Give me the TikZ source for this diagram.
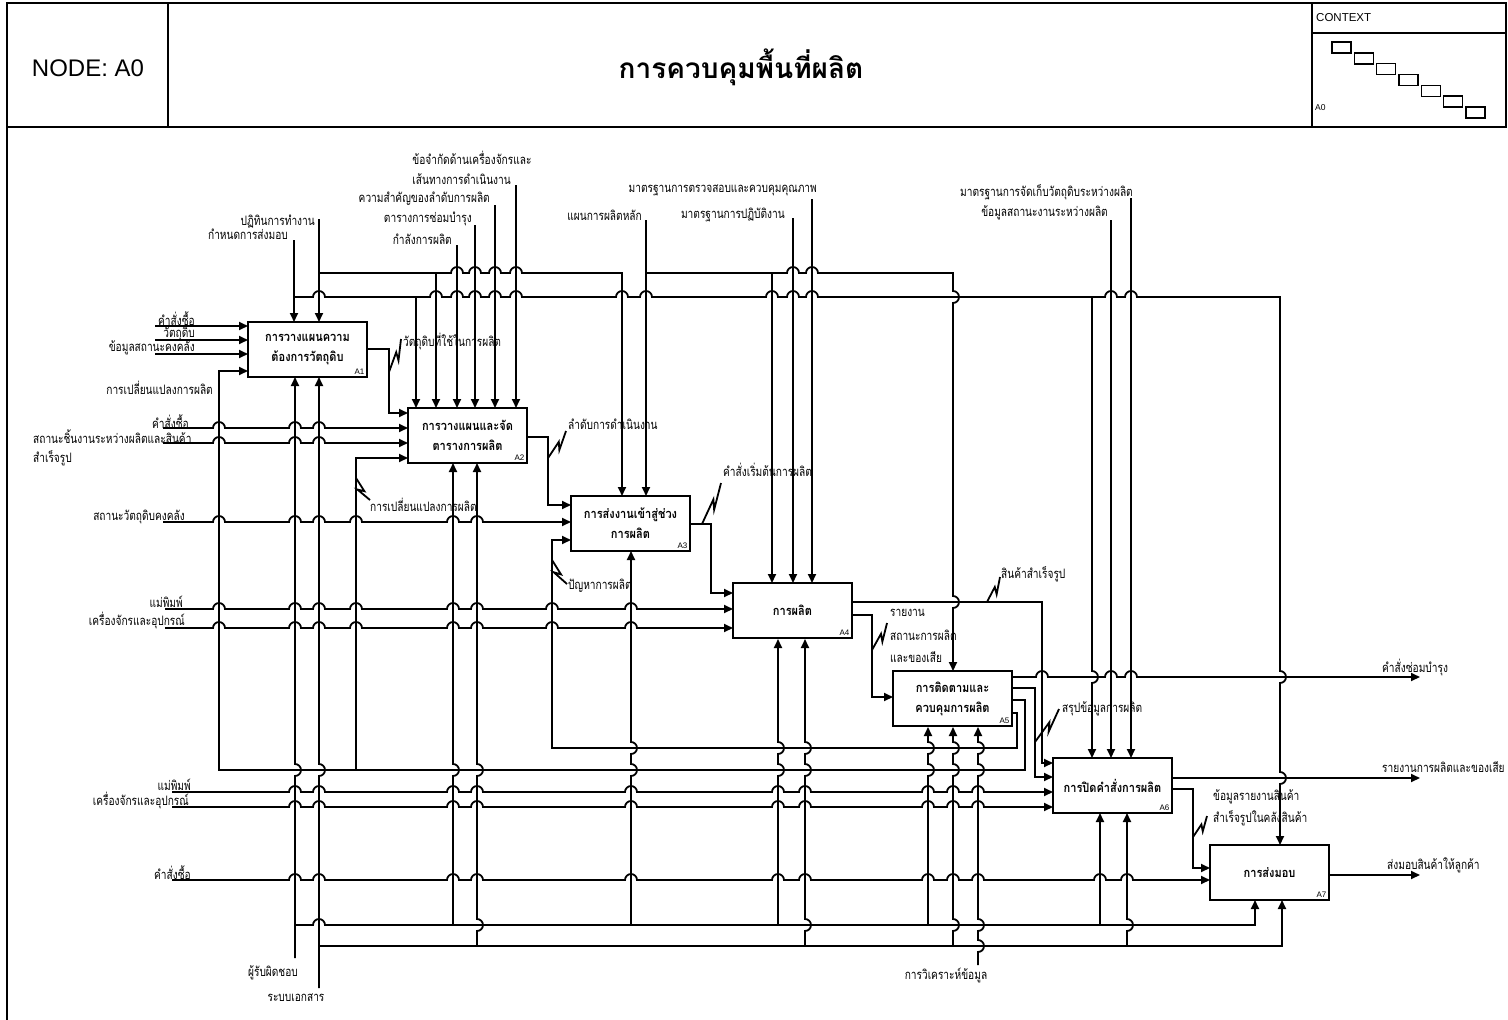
\documentclass[tikz,border=0pt]{standalone}
\usepackage{fontspec}
\setmainfont{Liberation Sans}
\newfontfamily\thai[Script=Thai]{Loma}
\newfontfamily\thainarrow[Script=Thai,FakeStretch=0.78]{Loma}
\newfontfamily\thaibox[Script=Thai,FakeStretch=0.86]{Loma}
\usetikzlibrary{arrows.meta,calc}

% line hops: horizontal (rightwards) and vertical (downwards / upwards)
\def\hh#1#2{-- ({#1-6},#2) arc[start angle=180,end angle=0,radius=6pt]}
\def\vd#1#2{-- (#1,{#2-6}) arc[start angle=90,end angle=-90,radius=6pt]}
\def\vu#1#2{-- (#1,{#2+6}) arc[start angle=-90,end angle=90,radius=6pt]}
% IDEF0 squiggle tying a label to its arrow
\newcommand\squig[2]{\draw[wire] (#1) -- ($(#1)!0.6!(#2)$) -- ($(#1)!0.4!(#2)!5pt!-90:(#2)$) -- (#2);}

\begin{document}
\begin{tikzpicture}[x=1pt,y=-1pt,
  wire/.style={line width=1.8pt},
  arr/.style={-{Triangle[length=9pt,width=8pt]}},
  frame/.style={line width=2.4pt},
  actbox/.style={draw, line width=1.8pt, anchor=north west, minimum width=119pt,
    minimum height=55pt, inner sep=0pt, outer sep=0pt, align=center,
    font=\thaibox\bfseries\fontsize{12.8}{20}\selectfont},
  boxno/.style={anchor=south east, inner sep=2.5pt, font=\fontsize{8}{8}\selectfont},
  lbl/.style={inner sep=0pt, font=\thainarrow\fontsize{13}{14}\selectfont}]

\fill[white] (0,0) rectangle (1508,1020);
\useasboundingbox (0,0) rectangle (1508,1020);

% ---------------- header ----------------
\draw[frame] (7,3) rectangle (1506,127);
\draw[frame] (7,127) -- (7,1020);
\draw[frame] (168,3) -- (168,127);
\draw[frame] (1312,3) -- (1312,127);
\draw[frame] (1312,33) -- (1506,33);
\node[font=\fontsize{24}{24}\selectfont] (nodeid) at (88,68) {NODE: A0};
\node[font=\thai\bfseries\fontsize{28}{32}\selectfont] (title) at (741,67) {การควบคุมพื้นที่ผลิต};
\node[anchor=west, inner sep=0pt, font=\fontsize{11.5}{12}\selectfont] (ctx) at (1316,18) {CONTEXT};
\node[anchor=west, inner sep=0pt, font=\fontsize{8.5}{9}\selectfont] (ctxa) at (1315,108) {A0};
\foreach \i in {0,...,6}
  \draw[line width=1.5pt] ({1332+22.33*\i},{42+10.83*\i}) rectangle ++(19,11);

% ---------------- activities ----------------
\node[actbox] (A1) at (248,322) {การวางแผนความ\\ต้องการวัตถุดิบ};
\node[actbox] (A2) at (408,408) {การวางแผนและจัด\\ตารางการผลิต};
\node[actbox] (A3) at (571,496) {การส่งงานเข้าสู่ช่วง\\การผลิต};
\node[actbox] (A4) at (733,583) {การผลิต};
\node[actbox] (A5) at (893,671) {การติดตามและ\\ควบคุมการผลิต};
\node[actbox] (A6) at (1053,758) {การปิดคำสั่งการผลิต};
\node[actbox] (A7) at (1210,845) {การส่งมอบ};
\foreach \b in {A1,A2,A3,A4,A5,A6,A7}
  \node[boxno] at (\b.south east) {\b};

% ---------------- controls ----------------
\draw[wire,arr] (319,219) -- (319,322);
\draw[wire,arr] (319,273) \hh{457}{273} \hh{475}{273} \hh{495}{273} \hh{516}{273} -- (622,273) -- (622,496);
\draw[wire,arr] (436,273) -- (436,408);
\draw[wire,arr] (294,240) -- (294,322);
\draw[wire,arr] (294,297) \hh{319}{297} \hh{436}{297} \hh{457}{297} \hh{475}{297} \hh{495}{297} \hh{516}{297}
  \hh{622}{297} \hh{646}{297} \hh{772}{297} \hh{793}{297} \hh{812}{297} \hh{1111}{297} \hh{1131}{297}
  -- (1280,297) \vd{1280}{677} \vd{1280}{778} -- (1280,845);
\draw[wire,arr] (416,297) -- (416,408);
\draw[wire,arr] (1092,297) \vd{1092}{677} -- (1092,758);
\draw[wire,arr] (457,245) -- (457,408);
\draw[wire,arr] (475,225) -- (475,408);
\draw[wire,arr] (495,205) -- (495,408);
\draw[wire,arr] (516,185) -- (516,408);
\draw[wire,arr] (646,220) -- (646,496);
\draw[wire,arr] (646,273) \hh{793}{273} \hh{812}{273} -- (953,273) \vd{953}{297} \vd{953}{602} -- (953,671);
\draw[wire,arr] (772,273) -- (772,583);
\draw[wire,arr] (793,218) -- (793,583);
\draw[wire,arr] (812,199) -- (812,583);
\draw[wire,arr] (1111,220) -- (1111,758);
\draw[wire,arr] (1131,198) -- (1131,758);

% ---------------- inputs ----------------
\draw[wire,arr] (155,326) -- (248,326);
\draw[wire,arr] (155,340) -- (248,340);
\draw[wire,arr] (155,354) -- (248,354);
\draw[wire,arr] (163,428) \hh{219}{428} \hh{295}{428} \hh{319}{428} -- (408,428);
\draw[wire,arr] (163,443) \hh{219}{443} \hh{295}{443} \hh{319}{443} -- (408,443);
\draw[wire,arr] (163,522) \hh{219}{522} \hh{295}{522} \hh{319}{522} \hh{356}{522} \hh{453}{522} \hh{477}{522} -- (571,522);
\draw[wire,arr] (165,609) \hh{219}{609} \hh{295}{609} \hh{319}{609} \hh{356}{609} \hh{453}{609} \hh{477}{609}
  \hh{552}{609} \hh{631}{609} -- (733,609);
\draw[wire,arr] (165,628) \hh{219}{628} \hh{295}{628} \hh{319}{628} \hh{356}{628} \hh{453}{628} \hh{477}{628}
  \hh{552}{628} \hh{631}{628} -- (733,628);
\draw[wire,arr] (172,792) \hh{295}{792} \hh{319}{792} \hh{453}{792} \hh{477}{792} \hh{631}{792} \hh{778}{792}
  \hh{805}{792} \hh{928}{792} \hh{953}{792} \hh{978}{792} -- (1053,792);
\draw[wire,arr] (172,807) \hh{295}{807} \hh{319}{807} \hh{453}{807} \hh{477}{807} \hh{631}{807} \hh{778}{807}
  \hh{805}{807} \hh{928}{807} \hh{953}{807} \hh{978}{807} -- (1053,807);
\draw[wire,arr] (172,880) \hh{295}{880} \hh{319}{880} \hh{453}{880} \hh{477}{880} \hh{631}{880} \hh{778}{880}
  \hh{805}{880} \hh{928}{880} \hh{953}{880} \hh{978}{880} \hh{1100}{880} \hh{1127}{880} -- (1210,880);

% ---------------- mechanisms ----------------
\draw[wire,arr] (295,958) \vu{295}{770} -- (295,377);
\draw[wire,arr] (319,988) \vu{319}{770} -- (319,377);
\draw[wire,arr] (295,925) \hh{319}{925} -- (1255,925) -- (1255,900);
\draw[wire,arr] (319,946) -- (1282,946) -- (1282,900);
\draw[wire,arr] (453,925) \vu{453}{770} -- (453,463);
\draw[wire,arr] (631,925) \vu{631}{770} \vu{631}{748} -- (631,551);
\draw[wire,arr] (778,925) \vu{778}{770} \vu{778}{748} -- (778,639);
\draw[wire,arr] (928,925) \vu{928}{770} \vu{928}{748} -- (928,727);
\draw[wire,arr] (1100,925) -- (1100,813);
\draw[wire,arr] (477,946) \vu{477}{925} \vu{477}{770} -- (477,463);
\draw[wire,arr] (805,946) \vu{805}{925} \vu{805}{770} \vu{805}{748} -- (805,639);
\draw[wire,arr] (953,946) \vu{953}{925} \vu{953}{770} \vu{953}{748} -- (953,727);
\draw[wire,arr] (1127,946) \vu{1127}{925} -- (1127,813);
\draw[wire,arr] (978,965) \vu{978}{946} \vu{978}{925} \vu{978}{770} \vu{978}{748} -- (978,727);

% ---------------- outputs and feedback ----------------
\draw[wire,arr] (368,349) -- (389,349) -- (389,413) -- (408,413);
\draw[wire,arr] (527,437) -- (548,437) -- (548,505) -- (571,505);
\draw[wire,arr] (689,524) -- (711,524) -- (711,593) -- (733,593);
\draw[wire,arr] (852,602) -- (1042,602) -- (1042,763) -- (1053,763);
\draw[wire,arr] (852,615) -- (872,615) -- (872,697) -- (893,697);
\draw[wire,arr] (1012,677) \hh{1042}{677} \hh{1111}{677} \hh{1131}{677} -- (1420,677);
\draw[wire,arr] (1012,688) -- (1035,688) -- (1035,777) -- (1053,777);
\draw[wire,arr] (1012,700) -- (1025,700) -- (1025,770) -- (219,770) -- (219,371) -- (248,371);
\draw[wire,arr] (356,770) -- (356,458) -- (408,458);
\draw[wire,arr] (1012,713) -- (1017,713) -- (1017,748) -- (552,748) -- (552,540) -- (571,540);
\draw[wire,arr] (1172,778) -- (1420,778);
\draw[wire,arr] (1172,789) -- (1193,789) -- (1193,868) -- (1210,868);
\draw[wire,arr] (1329,875) -- (1420,875);

% ---------------- squiggles ----------------
\squig{389,372}{401,339}
\squig{548,458}{566,431}
\squig{702,524}{721,483}
\squig{987,602}{1000,577}
\squig{872,650}{887,623}
\squig{1035,742}{1059,709}
\squig{356,478}{370,500}
\squig{552,560}{567,584}
\squig{1193,837}{1207,816}

% ---------------- labels ----------------
\node[lbl,anchor=east] (i1) at (195,319) {คำสั่งซื้อ};
\node[lbl,anchor=east] (i2) at (195,334) {วัตถุดิบ};
\node[lbl,anchor=east] (i3) at (195,348) {ข้อมูลสถานะคงคลัง};
\node[lbl,anchor=east] (f1) at (213,388) {การเปลี่ยนแปลงการผลิต};
\node[lbl,anchor=east] (i4) at (189,422) {คำสั่งซื้อ};
\node[lbl,anchor=west] (i5) at (33,437) {สถานะชิ้นงานระหว่างผลิตและสินค้า};
\node[lbl,anchor=west] (i5b) at (33,458) {สำเร็จรูป};
\node[lbl,anchor=east] (i6) at (185,517) {สถานะวัตถุดิบคงคลัง};
\node[lbl,anchor=east] (i7) at (183,602) {แม่พิมพ์};
\node[lbl,anchor=east] (i8) at (185,621) {เครื่องจักรและอุปกรณ์};
\node[lbl,anchor=east] (i9) at (191,785) {แม่พิมพ์};
\node[lbl,anchor=east] (i10) at (189,801) {เครื่องจักรและอุปกรณ์};
\node[lbl,anchor=east] (i11) at (191,873) {คำสั่งซื้อ};

\node[lbl,anchor=east] (c1) at (315,222) {ปฏิทินการทำงาน};
\node[lbl,anchor=east] (c2) at (288,234) {กำหนดการส่งมอบ};
\node[lbl,anchor=east] (c6b) at (511,179) {เส้นทางการดำเนินงาน};
\node[lbl,anchor=west] (c6) at (c6b.west |- 0,158) {ข้อจำกัดด้านเครื่องจักรและ};
\node[lbl,anchor=east] (c5) at (490,199) {ความสำคัญของลำดับการผลิต};
\node[lbl,anchor=east] (c4) at (472,219) {ตารางการซ่อมบำรุง};
\node[lbl,anchor=east] (c3) at (452,239) {กำลังการผลิต};
\node[lbl,anchor=east] (c7) at (642,215) {แผนการผลิตหลัก};
\node[lbl,anchor=east] (c9) at (817,190) {มาตรฐานการตรวจสอบและควบคุมคุณภาพ};
\node[lbl,anchor=east] (c8) at (785,215) {มาตรฐานการปฏิบัติงาน};
\node[lbl,anchor=east] (c11) at (1133,192) {มาตรฐานการจัดเก็บวัตถุดิบระหว่างผลิต};
\node[lbl,anchor=east] (c10) at (1108,213) {ข้อมูลสถานะงานระหว่างผลิต};

\node[lbl] (m1) at (273,973) {ผู้รับผิดชอบ};
\node[lbl] (m2) at (296,998) {ระบบเอกสาร};
\node[lbl] (m3) at (946,975) {การวิเคราะห์ข้อมูล};

\node[lbl,anchor=west] (o1) at (403,342) {วัตถุดิบที่ใช้ในการผลิต};
\node[lbl,anchor=west] (o2) at (568,424) {ลำดับการดำเนินงาน};
\node[lbl,anchor=west] (o3) at (723,470) {คำสั่งเริ่มต้นการผลิต};
\node[lbl,anchor=west] (o4) at (568,586) {ปัญหาการผลิต};
\node[lbl,anchor=west] (o5) at (370,505) {การเปลี่ยนแปลงการผลิต};
\node[lbl,anchor=west] (o6) at (890,613) {รายงาน};
\node[lbl,anchor=west] (o6b) at (890,635) {สถานะการผลิต};
\node[lbl,anchor=west] (o6c) at (890,657) {และของเสีย};
\node[lbl,anchor=west] (o7) at (1001,574) {สินค้าสำเร็จรูป};
\node[lbl,anchor=west] (o8) at (1062,709) {สรุปข้อมูลการผลิต};
\node[lbl,anchor=west] (o9) at (1382,668) {คำสั่งซ่อมบำรุง};
\node[lbl,anchor=west] (o10) at (1382,767) {รายงานการผลิตและของเสีย};
\node[lbl,anchor=west] (o11) at (1213,797) {ข้อมูลรายงานสินค้า};
\node[lbl,anchor=west] (o11b) at (1213,818) {สำเร็จรูปในคลังสินค้า};
\node[lbl,anchor=west] (o12) at (1387,865) {ส่งมอบสินค้าให้ลูกค้า};
\end{tikzpicture}
\end{document}
